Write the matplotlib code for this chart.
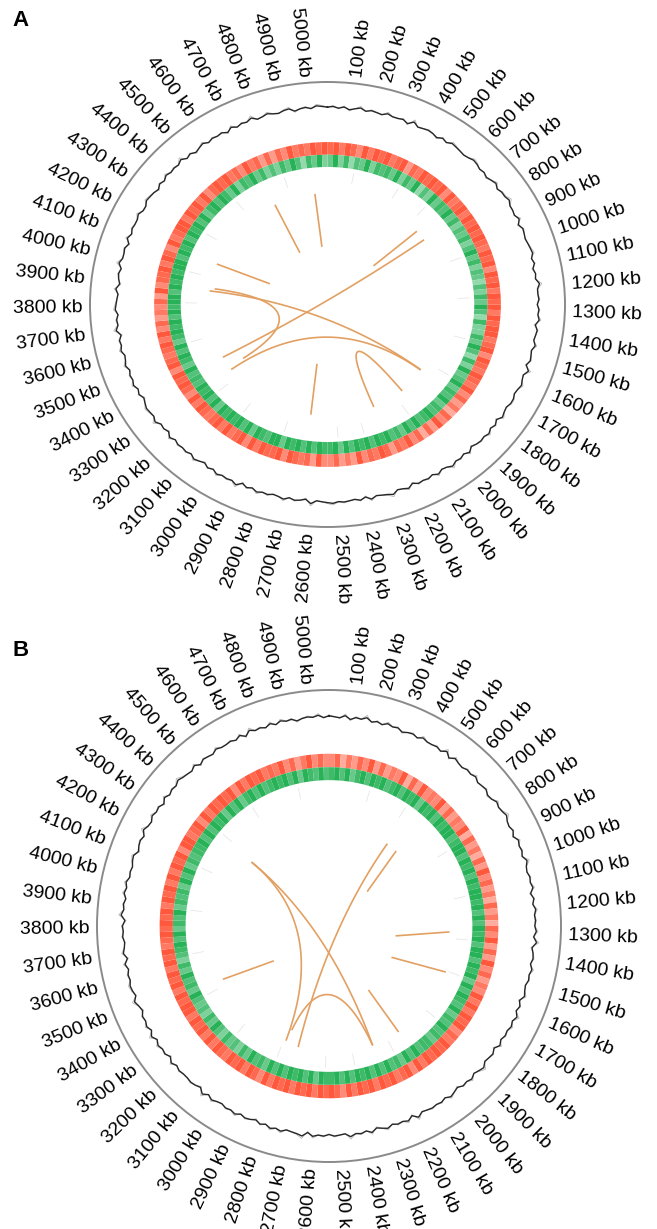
import numpy as np
import matplotlib
matplotlib.use('Agg')
from matplotlib import pyplot as plt

GENOME_KB = 5080
LABEL_KB = list(range(100, 5001, 100))

# GC content track, one digit per bin (higher = further out)
GC_A = ("4535246354" "3644527345" "4253654346" "5342463557" "4436254345" "6352437445"
        "3546254363" "4527346435" "5346253645" "4263547436" "3545264375" "4362534546"
        "5437245364" "3546352745" "4635246354" "5362437456" "4253645364" "3645274536"
        "5436245374" "4526354463" "3654253645" "4735246354" "5263547346" "4356245365")
GC_B = ("5436254735" "3645245364" "4537264354" "6345236457" "4352645374" "3546253645"
        "4637245364" "5346253746" "4536254375" "3645246354" "5437264536" "4263547345"
        "3546275436" "4635245364" "5346372454" "4536254637" "3645247356" "4536264354"
        "5274536463" "4356245374" "3645263547" "5436254364" "4536274536" "3645245463")

# heat rings, intensity 0-9 per bin
RED_A = ("8979869798" "9789587989" "8969789798" "9898798969" "8979897989" "9789698798"
         "7968574869" "5848697858" "9786957586" "6958789698" "8979698797" "9878979689"
         "8969878979" "6857685968" "8979869789" "9798979689" "8978697858" "5869787989")
GREEN_A = ("6958476958" "7869586947" "5968796857" "6857968576" "4758697485" "5869748596"
           "7968796879" "8797968798" "9798979698" "8979798969" "9789697989" "8969798978"
           "7968979689" "8979899798" "9899798979" "8979689798" "6958796857" "5869748695")
RED_B = ("6847586958" "5769485967" "6958576948" "5748596857" "4857486958" "5968576979"
         "7989687989" "8979698798" "9798979689" "8979897989" "7968979897" "8979798979"
         "9897989798" "9789898979" "8979798969" "9789697989" "8969798978" "7968579686")
GREEN_B = ("8979689798" "9789798969" "8979899789" "9798979899" "8979798979" "9798969798"
           "7968797868" "8797968797" "9798979798" "8969798979" "7968796857" "6857968576"
           "7968796857" "8979687968" "7869796878" "8979798969" "7968979789" "8979698797")

# faint marks inside the rings (kb)
MARKS_A = [150, 420, 610, 980, 1230, 1480, 1720, 2050, 2330, 2480, 2790, 3050, 3240, 3580,
           3820, 4010, 4260, 4520, 4830]
MARKS_B = [240, 470, 820, 1100, 1350, 1560, 1840, 2150, 2390, 2560, 2850, 3120, 3400, 3650,
           3900, 4150, 4380, 4610, 4900]

# links: start (kb, radius), end (kb, radius), bend (-1 straight, else bezier control radius)
LINKS_A_FROM_KB = [4709, 4994, 679, 3411, 4111, 3909, 3929, 3305, 2673, 2216]
LINKS_A_FROM_R = [0.50, 0.50, 0.26, 0.50, 0.50, 0.50, 0.48, 0.50, 0.27, 0.50]
LINKS_A_TO_KB = [4705, 5007, 689, 768, 4106, 1788, 3326, 1791, 2654, 1990]
LINKS_A_TO_R = [0.26, 0.26, 0.50, 0.50, 0.26, 0.49, 0.43, 0.49, 0.50, 0.50]
LINKS_A_BEND = [-1, -1, -1, 0, -1, 0, 0, 0, -1, 0]

LINKS_B_FROM_KB = [4361, 4361, 505, 597, 1387, 1640, 3439, 2087, 2822]
LINKS_B_FROM_R = [0.43, 0.43, 0.43, 0.43, 0.29, 0.30, 0.51, 0.32, 0.47]
LINKS_B_TO_KB = [2252, 2835, 2745, 684, 1309, 1569, 3361, 2064, 2252]
LINKS_B_TO_R = [0.54, 0.52, 0.53, 0.22, 0.52, 0.54, 0.28, 0.54, 0.54]
LINKS_B_BEND = [0, 0, 0, -1, -1, -1, -1, -1, 0.11]

RED = np.array([255, 88, 60]) / 255
GREEN = np.array([40, 178, 88]) / 255
LINK_COLOR = '#e2a062'
FONT = 'Liberation Sans'


def kb_to_theta(kb):
    return 2 * np.pi * np.asarray(kb, dtype=float) / GENOME_KB


def shade(base, level):
    frac = 0.1 + 0.9 * level / 9.0
    return tuple(1 - frac * (1 - base))


def ring(ax, digits, base, bottom, height):
    levels = [int(c) for c in digits]
    n = len(levels)
    theta = 2 * np.pi * np.arange(n) / n
    ax.bar(theta, height, width=2 * np.pi / n, bottom=bottom, align='edge',
           color=[shade(base, v) for v in levels], linewidth=0, antialiased=True)


def link(ax, kb0, r0, kb1, r1, bend):
    t0, t1 = kb_to_theta(kb0), kb_to_theta(kb1)
    p0 = r0 * np.array([np.sin(t0), np.cos(t0)])
    p2 = r1 * np.array([np.sin(t1), np.cos(t1)])
    t = np.linspace(0, 1, 120)[:, None]
    if bend < 0:
        pts = (1 - t) * p0 + t * p2
    else:
        mid = np.array([np.sin(t0) + np.sin(t1), np.cos(t0) + np.cos(t1)])
        c = bend * mid / max(np.hypot(*mid), 1e-9)
        pts = (1 - t) ** 2 * p0 + 2 * (1 - t) * t * c + t ** 2 * p2
    th = np.unwrap(np.arctan2(pts[:, 0], pts[:, 1]))
    r = np.hypot(pts[:, 0], pts[:, 1])
    ax.plot(th, r, color=LINK_COLOR, lw=1.2, solid_capstyle='butt')


def panel(fig, rect, gc, red, green, marks, lf, lfr, lt, ltr, lb):
    ax = fig.add_axes(rect, projection='polar')
    ax.set_theta_zero_location('N')
    ax.set_theta_direction(-1)
    ax.set_aspect('auto')
    ax.grid(False)
    ax.set_xticks([])
    ax.set_yticks([])
    for name in ('inner', 'start', 'end'):
        if name in ax.spines:
            ax.spines[name].set_visible(False)
    ax.spines['polar'].set_color('#8a8a8a')
    ax.spines['polar'].set_linewidth(1.4)

    # GC line, a faint wide trace under a dark narrow one
    vals = np.array([int(c) for c in gc], dtype=float)
    theta = 2 * np.pi * np.arange(len(vals)) / len(vals)
    theta = np.append(theta, theta[0] + 2 * np.pi)
    vals = np.append(vals, vals[0])
    ax.plot(theta, 0.862 + 0.0065 * vals, color='#b5b5b5', lw=0.6)
    ax.plot(theta, 0.873 + 0.0035 * vals, color='#262626', lw=1.0)

    ring(ax, red, RED, 0.673, 0.057)
    ring(ax, green, GREEN, 0.618, 0.055)

    ax.bar(kb_to_theta(marks), 0.05, width=0.006, bottom=0.55,
           color='#e6e6e6', linewidth=0)

    for a, b, c, d, e in zip(lf, lfr, lt, ltr, lb):
        link(ax, a, b, c, d, e)

    ax.set_ylim(0, 1)

    # tick labels around the circle
    x0, y0, w, h = rect
    rx, ry = w * fig.get_figwidth(), h * fig.get_figheight()
    for kb in LABEL_KB:
        th = kb_to_theta(kb)
        phi = np.degrees(np.arctan2(ry * np.cos(th), rx * np.sin(th)))
        if np.degrees(th) < 180:
            rot, ha = phi, 'left'
        else:
            rot, ha = phi + 180, 'right'
        ax.text(th, 1.03, '{} kb'.format(kb), rotation=rot, rotation_mode='anchor',
                ha=ha, va='center', fontsize=14, family=FONT, clip_on=False)
    return ax


def main():
    fig = plt.figure(figsize=(6.57, 12.29), dpi=100)
    W, H = 657.0, 1229.0
    rect_a = [90 / W, 1 - 527 / H, 475 / W, 445 / H]
    rect_b = [97 / W, 1 - 1162 / H, 464 / W, 472 / H]
    panel(fig, rect_a, GC_A, RED_A, GREEN_A, MARKS_A, LINKS_A_FROM_KB, LINKS_A_FROM_R,
          LINKS_A_TO_KB, LINKS_A_TO_R, LINKS_A_BEND)
    panel(fig, rect_b, GC_B, RED_B, GREEN_B, MARKS_B, LINKS_B_FROM_KB, LINKS_B_FROM_R,
          LINKS_B_TO_KB, LINKS_B_TO_R, LINKS_B_BEND)
    fig.text(12 / W, 1 - 20 / H, 'A', fontsize=16, fontweight='bold', family=FONT,
             va='center', ha='left')
    fig.text(12 / W, 1 - 650 / H, 'B', fontsize=16, fontweight='bold', family=FONT,
             va='center', ha='left')
    fig.savefig('out.png', dpi=100)


if __name__ == '__main__':
    main()
